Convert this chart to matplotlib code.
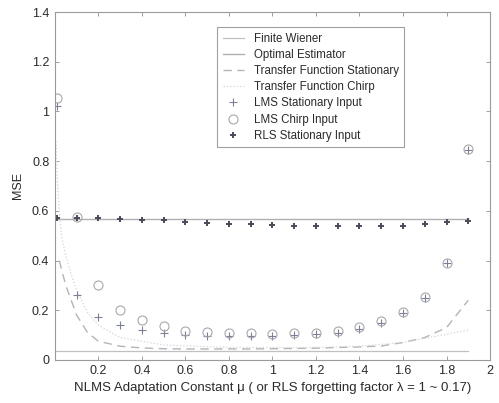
import matplotlib
matplotlib.use("Agg")
import matplotlib.pyplot as plt
import numpy as np

plt.rcParams['font.family'] = ['Liberation Sans', 'DejaVu Sans']

# step sizes (mu)
mu = [0.01, 0.1, 0.2, 0.3, 0.4, 0.5, 0.6, 0.7, 0.8, 0.9, 1.0,
      1.1, 1.2, 1.3, 1.4, 1.5, 1.6, 1.7, 1.8, 1.9]

lms_stationary = [1.02, 0.26, 0.173, 0.14, 0.12, 0.108, 0.10, 0.097, 0.097, 0.097, 0.097,
                  0.10, 0.103, 0.11, 0.125, 0.15, 0.19, 0.25, 0.39, 0.845]
lms_chirp = [1.055, 0.575, 0.30, 0.20, 0.16, 0.137, 0.118, 0.112, 0.108, 0.107, 0.106,
             0.108, 0.11, 0.117, 0.133, 0.157, 0.193, 0.253, 0.39, 0.85]
rls_stationary = [0.57, 0.57, 0.57, 0.568, 0.565, 0.562, 0.555, 0.55, 0.545, 0.545, 0.542,
                  0.54, 0.54, 0.54, 0.54, 0.54, 0.54, 0.546, 0.554, 0.56]

# theoretical curves
wiener_x = [0.0, 1.9]
finite_wiener = [0.035, 0.035]
optimal_x = [0.0, 1.9]
optimal_estimator = [0.567, 0.567]

tf_stat_x = [0.02, 0.05, 0.1, 0.15, 0.2, 0.3, 0.4, 0.5, 0.6, 0.7, 0.8, 0.9, 1.0,
             1.1, 1.2, 1.3, 1.4, 1.5, 1.6, 1.7, 1.8, 1.9]
tf_stationary = [0.40, 0.30, 0.18, 0.11, 0.075, 0.055, 0.048, 0.045, 0.044, 0.044, 0.044, 0.044,
                 0.045, 0.046, 0.047, 0.05, 0.052, 0.056, 0.07, 0.09, 0.13, 0.24]

tf_chirp_x = [0.005, 0.01, 0.02, 0.03, 0.05, 0.08, 0.1, 0.15, 0.2, 0.3, 0.5, 0.8, 1.0,
              1.2, 1.4, 1.6, 1.9]
tf_chirp = [0.88, 0.75, 0.6, 0.5, 0.42, 0.33, 0.28, 0.19, 0.14, 0.09, 0.06, 0.05, 0.05,
            0.05, 0.055, 0.07, 0.12]

fig = plt.figure(figsize=(4.99, 4.03), dpi=100)
ax = fig.add_axes([0.110, 0.107, 0.872, 0.863])

ax.plot(wiener_x, finite_wiener, '-', color='#c0c0c4', lw=0.9, label='Finite Wiener')
ax.plot(optimal_x, optimal_estimator, '-', color='#b0b0b4', lw=1.0, label='Optimal Estimator')
ax.plot(tf_stat_x, tf_stationary, '--', color='#b4b4b8', lw=1.0, dashes=(6, 4),
        label='Transfer Function Stationary')
ax.plot(tf_chirp_x, tf_chirp, ':', color='#d4d4d8', lw=0.9, label='Transfer Function Chirp')
ax.plot(mu, lms_stationary, '+', color='#7c8098', ms=5.5, mew=0.8, linestyle='none',
        label='LMS Stationary Input')
ax.plot(mu, lms_chirp, 'o', mfc='none', mec='#a8a8ae', ms=6.5, mew=0.8, linestyle='none',
        label='LMS Chirp Input')
ax.plot(mu, rls_stationary, '+', color='#4a4a58', ms=5, mew=1.4, linestyle='none',
        label='RLS Stationary Input')

ax.set_xlim(0, 2)
ax.set_ylim(0, 1.4)
ax.set_xticks([0.2, 0.4, 0.6, 0.8, 1.0, 1.2, 1.4, 1.6, 1.8, 2.0])
ax.set_xticklabels(['0.2', '0.4', '0.6', '0.8', '1', '1.2', '1.4', '1.6', '1.8', '2'])
ax.set_yticks([0, 0.2, 0.4, 0.6, 0.8, 1.0, 1.2, 1.4])
ax.set_yticklabels(['0', '0.2', '0.4', '0.6', '0.8', '1', '1.2', '1.4'])
ax.tick_params(direction='in', top=True, right=True, labelsize=9, length=3,
               color='#909090', labelcolor='#2a2a2a', width=0.6, pad=4)
for s in ax.spines.values():
    s.set_color('#9a9a9a')
    s.set_linewidth(0.8)

ax.set_xlabel('NLMS Adaptation Constant μ ( or RLS forgetting factor λ = 1 ~ 0.17)',
              fontsize=9.5, color='#2a2a2a', labelpad=3)
ax.set_ylabel('MSE', fontsize=9, color='#2a2a2a', labelpad=6)

leg = ax.legend(loc='upper left', bbox_to_anchor=(0.372, 0.957), fontsize=8.3,
                frameon=True, fancybox=False, edgecolor='#a0a0a0', framealpha=1,
                handlelength=1.9, handletextpad=0.8, labelspacing=0.36,
                borderpad=0.5, borderaxespad=0)
leg.get_frame().set_linewidth(0.8)
for t in leg.get_texts():
    t.set_color('#2a2a2a')

fig.savefig('out.png', dpi=100)
